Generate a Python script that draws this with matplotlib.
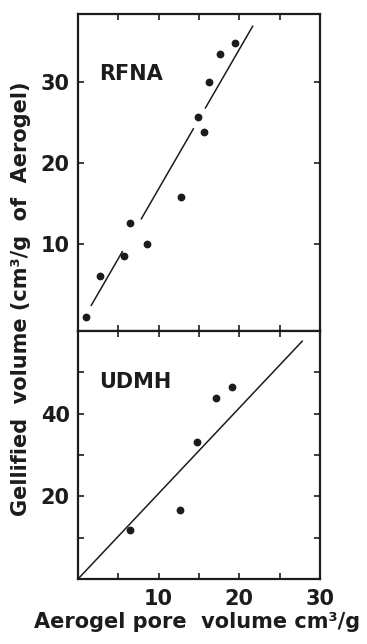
import numpy as np
import matplotlib.pyplot as plt

# RFNA (top panel)
rfna_x = [1.0, 2.7, 5.7, 6.5, 8.5, 12.8, 14.9, 15.6, 16.2, 17.6, 19.5]
rfna_y = [1.1, 6.1, 8.6, 12.6, 10.1, 15.9, 25.7, 23.9, 30.0, 33.5, 34.8]
rfna_fit = (1.72, -0.35)          # slope, intercept
rfna_segments = [(1.65, 5.5), (7.85, 14.3), (15.8, 21.65)]   # line is broken near points

# UDMH (bottom panel)
udmh_x = [6.4, 12.7, 14.7, 17.1, 19.1]
udmh_y = [11.8, 16.6, 33.1, 43.9, 46.4]
udmh_fit = (2.07, 0.0)
udmh_segments = [(0.0, 27.8)]

ink = '#1c1c1c'
plt.rcParams['font.family'] = 'DejaVu Sans'
plt.rcParams['font.weight'] = 'bold'

fig = plt.figure(figsize=(3.67, 6.44), dpi=100)
W, H = 367, 644
left, right = 78 / W, 320 / W
ax1 = fig.add_axes([left, 1 - 331 / H, right - left, (331 - 14) / H])
ax2 = fig.add_axes([left, 1 - 579 / H, right - left, (579 - 331) / H])


def draw(ax, xs, ys, fit, segments):
    ax.plot(xs, ys, 'o', color=ink, markersize=4.6, zorder=3)
    for a, b in segments:
        sx = np.array([a, b])
        ax.plot(sx, fit[0] * sx + fit[1], color=ink, lw=1.1)
    for s in ax.spines.values():
        s.set_linewidth(1.6)
        s.set_color(ink)
    ax.set_xlim(0, 30)
    ax.set_xticks([5, 10, 15, 20, 25])
    ax.tick_params(direction='in', top=True, right=True, length=4.5, width=1.2,
                   color=ink, labelsize=15, labelcolor=ink, pad=6)


draw(ax1, rfna_x, rfna_y, rfna_fit, rfna_segments)
ax1.set_ylim(-0.68, 38.4)
ax1.set_yticks([10, 20, 30])
ax1.tick_params(labelbottom=False)
ax1.text(0.087, 0.792, 'RFNA', transform=ax1.transAxes, fontsize=15,
         fontweight='bold', color=ink)

draw(ax2, udmh_x, udmh_y, udmh_fit, udmh_segments)
ax2.set_ylim(0, 60)
ax2.set_yticks([10, 20, 30, 40, 50])
ax2.set_yticklabels(['', '20', '', '40', ''])
ax2.set_xticks([5, 10, 15, 20, 25, 30])
ax2.set_xticklabels(['', '10', '', '20', '', '30'])
ax2.tick_params(axis='x', pad=7)
ax2.text(0.087, 0.769, 'UDMH', transform=ax2.transAxes, fontsize=15,
         fontweight='bold', color=ink)

fig.text(21 / W, 1 - 299 / H, 'Gellified  volume (cm³/g  of  Aerogel)',
         rotation=90, ha='center', va='center', fontsize=15,
         fontweight='bold', color=ink)
fig.text(197 / W, 1 - 628 / H, 'Aerogel pore  volume cm³/g',
         ha='center', va='baseline', fontsize=15, fontweight='bold', color=ink)

fig.savefig('out.png', dpi=100, facecolor='white')
